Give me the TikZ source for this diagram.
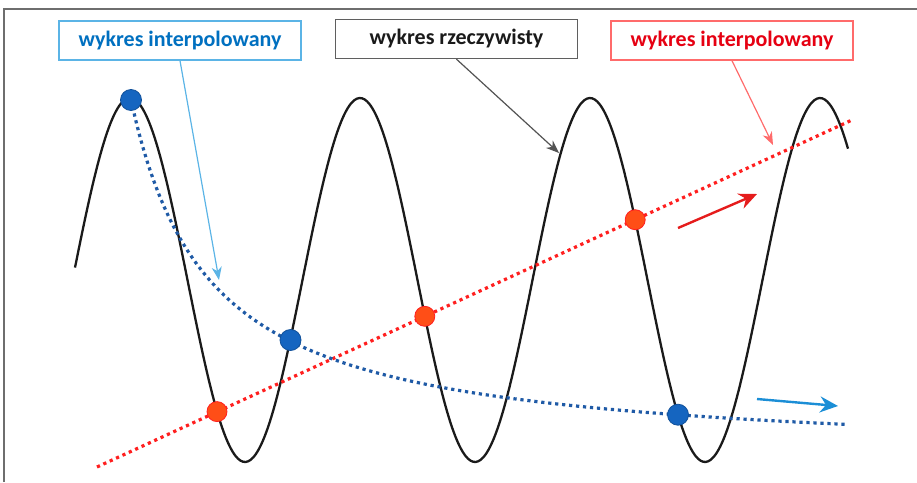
\documentclass[tikz,border=0pt]{standalone}
\usepackage{fontspec}
\setmainfont{Carlito}
\usetikzlibrary{positioning,arrows,arrows.meta,calc}
\definecolor{ink}       {HTML}{1A1A1A}
\definecolor{framegray} {HTML}{6E6E6E}
\definecolor{lineblue}  {HTML}{5BB4E6}
\definecolor{textblue}  {HTML}{0070C0}
\definecolor{curveblue} {HTML}{1F5AA6}
\definecolor{dotblue}   {HTML}{1565C0}
\definecolor{arrowblue} {HTML}{1B8ED6}
\definecolor{linered}   {HTML}{FF6B6B}
\definecolor{textred}   {HTML}{E60012}
\definecolor{curvered}  {HTML}{FF1F1F}
\definecolor{dotred}    {HTML}{FF4E17}
\tikzset{
  >=stealth,
  % --- label boxes
  lab/.style     = {draw, line width=1.4pt, fill=white, inner sep=0pt,
                    minimum width=242pt, minimum height=39pt,
                    font=\fontsize{22}{26}\selectfont\bfseries},
  bluelab/.style = {lab, draw=lineblue, text=textblue},
  inklab/.style  = {lab, draw=ink!70, text=ink},
  redlab/.style  = {lab, draw=linered, text=textred},
  % --- points
  bdot/.style    = {circle, inner sep=0pt, minimum size=21pt, fill=dotblue,
                    draw=dotblue!80!black, line width=0.8pt},
  rdot/.style    = {circle, inner sep=0pt, minimum size=20pt, fill=dotred,
                    draw=curvered, line width=0.8pt},
  % --- curves
  sine/.style    = {ink, line width=2.3pt},
  bluedots/.style= {curveblue, line width=3.2pt, dash pattern=on 3.2pt off 3.8pt},
  reddots/.style = {curvered, line width=3.2pt, dash pattern=on 3.2pt off 3.8pt},
  % --- arrows
  call/.style    = {-{Stealth[length=13pt, width=10pt, inset=4pt]}, line width=1.2pt},
  dir/.style     = {-{Stealth[length=18pt, width=16pt, inset=6pt]}, line width=2.4pt},
}
\begin{document}
\begin{tikzpicture}[x=1pt, y=-1pt]
  \useasboundingbox (0,0) rectangle (917,482);
  \draw[framegray, line width=1.6pt] (4,482) -- (4,9) -- (917,9);

  % real graph
  \draw[sine] plot[domain=75:848, samples=300, smooth]
    (\x, {280-182*cos((\x-130)*1.5652)});

  % interpolated graphs
  \coordinate (r0) at (97,467);
  \coordinate (r1) at (852,120);
  \draw[reddots] (r0) -- (r1);
  \draw[bluedots] plot[domain=131:845, samples=120, smooth]
    (\x, {460-282.6/((\x-52.5)*0.01)});

  \node[bdot] (b1) at (131,100) {};
  \node[bdot] (b2) at (290.5,340) {};
  \node[bdot] (b3) at (678,414.7) {};
  \node[rdot] (p1) at (217,411.6) {};
  \node[rdot] (p2) at (424.8,316.3) {};
  \node[rdot] (p3) at (635.2,219.7) {};

  % labels
  \node[bluelab] (lb) at (180,40.5) {wykres interpolowany};
  \node[inklab]  (lk) at (456.5,39) {wykres rzeczywisty};
  \node[redlab]  (lr) at (732,40.5) {wykres interpolowany};

  \coordinate (tb) at (219,280);
  \coordinate (tk) at (559,153);
  \coordinate (tr) at (773,145);
  \draw[call, lineblue] (lb.south) -- (tb);
  \draw[call, ink!75]   (lk.south) -- (tk);
  \draw[call, linered]  (lr.south) -- (tr);

  % directions
  \coordinate (ra0) at (678,228);
  \coordinate (ra1) at (757,194);
  \coordinate (ba0) at (757,399);
  \coordinate (ba1) at (838,406);
  \draw[dir, curvered!90!black] (ra0) -- (ra1);
  \draw[dir, arrowblue] (ba0) -- (ba1);
\end{tikzpicture}
\end{document}
